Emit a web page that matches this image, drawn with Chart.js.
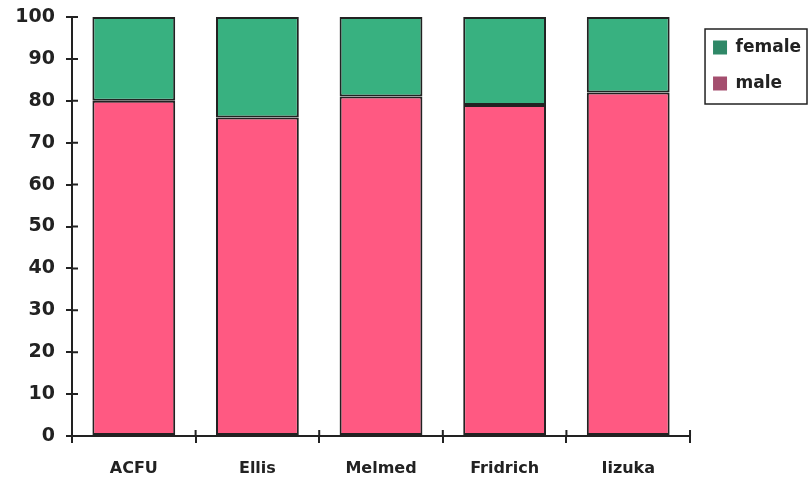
<!DOCTYPE html>
<html>
<head>
<meta charset="utf-8">
<script src="https://cdn.jsdelivr.net/npm/chart.js@4/dist/chart.umd.min.js"></script>
<style>
  html, body { margin: 0; padding: 0; background: #ffffff; }
  #wrap { width: 809px; height: 481px; }
</style>
</head>
<body>
<div id="wrap"><canvas id="c" width="809" height="481"></canvas></div>
<script>
// Share of patients by sex in each study (percent)
const studies = ['ACFU', 'Ellis', 'Melmed', 'Fridrich', 'Iizuka'];
const male = [80, 76, 81, 79, 82];
const female = [20, 24, 19, 21, 18];
const yTicks = [0, 10, 20, 30, 40, 50, 60, 70, 80, 90, 100];

const INK = '#222222';
const FONT = "'DejaVu Sans', 'Liberation Sans', Arial, sans-serif";

// Legend swatches print darker than the bar fills
const swatch = { male: '#a44e6e', female: '#2f8867' };

// Nudge the legend block into place after the layout pass
const legendNudge = {
  id: 'legendNudge',
  afterLayout(chart) {
    const lg = chart.legend;
    if (!lg) return;
    lg.left += 4; lg.right += 4;
    lg.top += 3; lg.bottom += 3;
  }
};

// Tick marks that cross the axes (inner half) and a frame around the legend
const axisDecor = {
  id: 'axisDecor',
  afterDraw(chart) {
    const { ctx, chartArea: a, scales } = chart;
    ctx.save();
    ctx.strokeStyle = INK;
    ctx.lineWidth = 2;
    ctx.beginPath();
    yTicks.forEach(v => {
      const y = scales.y.getPixelForValue(v);
      ctx.moveTo(a.left, y);
      ctx.lineTo(a.left + 6, y);
    });
    const n = studies.length;
    for (let i = 1; i <= n; i++) {
      const x = scales.x.getPixelForValue(i - 0.5);
      ctx.moveTo(x, a.bottom);
      ctx.lineTo(x, a.bottom - 6);
    }
    ctx.stroke();

    const lg = chart.legend;
    if (lg && lg.legendHitBoxes && lg.legendHitBoxes.length) {
      const boxes = lg.legendHitBoxes;
      const l = Math.min(...boxes.map(b => b.left)) - 8;
      const t = Math.min(...boxes.map(b => b.top)) - 10;
      const b = Math.max(...boxes.map(h => h.top + h.height)) + 12;
      ctx.lineWidth = 1.5;
      ctx.strokeRect(l, t, 807 - l, b - t);
    }
    ctx.restore();
  }
};

new Chart(document.getElementById('c'), {
  type: 'bar',
  data: {
    labels: studies,
    datasets: [
      {
        label: 'male',
        data: male,
        backgroundColor: '#ff5982',
        borderColor: INK,
        borderWidth: 2,
        borderSkipped: false
      },
      {
        label: 'female',
        data: female,
        backgroundColor: '#38b180',
        borderColor: INK,
        borderWidth: 2,
        borderSkipped: false
      }
    ]
  },
  options: {
    responsive: false,
    animation: false,
    devicePixelRatio: 1,
    layout: { padding: { top: 17, right: 2, left: 0, bottom: 0 } },
    datasets: {
      bar: { categoryPercentage: 1.0, barPercentage: 0.67 }
    },
    plugins: {
      tooltip: { enabled: false },
      legend: {
        position: 'right',
        align: 'start',
        reverse: true,
        labels: {
          color: INK,
          font: { family: FONT, size: 17, weight: 'bold' },
          boxWidth: 14,
          boxHeight: 14,
          padding: 19,
          generateLabels(chart) {
            return chart.data.datasets.map((ds, i) => ({
              text: ds.label,
              fillStyle: swatch[ds.label],
              strokeStyle: swatch[ds.label],
              lineWidth: 0,
              datasetIndex: i,
              fontColor: INK
            }));
          }
        }
      }
    },
    scales: {
      x: {
        stacked: true,
        offset: true,
        border: { display: true, color: INK, width: 2 },
        grid: {
          offset: true,
          drawOnChartArea: false,
          drawTicks: true,
          tickLength: 7,
          color: INK,
          lineWidth: 2
        },
        ticks: {
          color: INK,
          padding: 16,
          font: { family: FONT, size: 16, weight: 'bold' }
        },
        afterFit(scale) { scale.height = 45; }
      },
      y: {
        stacked: true,
        min: 0,
        max: 100,
        border: { display: true, color: INK, width: 2 },
        grid: {
          drawOnChartArea: false,
          drawTicks: true,
          tickLength: 6,
          color: INK,
          lineWidth: 2
        },
        afterBuildTicks(scale) {
          scale.ticks = yTicks.map(v => ({ value: v }));
        },
        ticks: {
          color: INK,
          padding: 11,
          font: { family: FONT, size: 19, weight: 'bold', lineHeight: 0.5 }
        },
        afterFit(scale) { scale.width = 72; }
      }
    }
  },
  plugins: [legendNudge, axisDecor]
});
</script>
</body>
</html>
